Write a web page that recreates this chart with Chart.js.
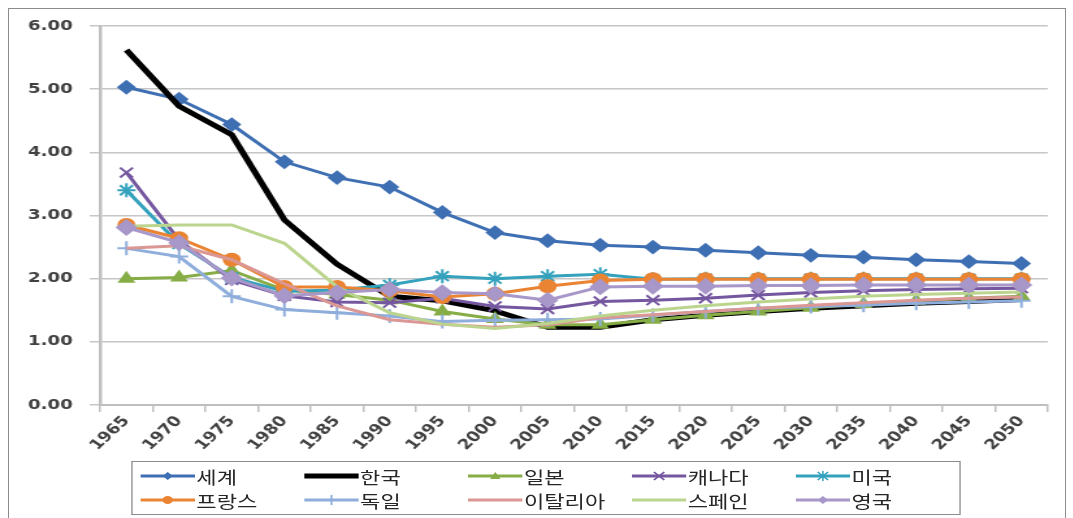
<!DOCTYPE html>
<html>
<head>
<meta charset="utf-8">
<script src="https://cdn.jsdelivr.net/npm/chart.js@4.4.1/dist/chart.umd.min.js"></script>
<style>
    html, body { margin: 0; padding: 0; background: #fff; overflow: hidden; }
    body { width: 1073px; height: 518px; position: relative; }
    #frame { position: absolute; left: 8px; top: 8px; width: 1056px; height: 530px; border: 1.5px solid #8c8c8c; }
    /* the reference is drawn wide, so the whole chart is stretched sideways */
    #stage { position: absolute; left: 0; top: 0; width: 826px; height: 518px; transform: scaleX(1.3); transform-origin: 0 0; }
    #wrap { position: absolute; left: 0; top: 0; width: 826px; height: 455px; }
    #legend {
        position: absolute; left: 101px; top: 461px; width: 638px; height: 54px;
        border: 1.5px solid #8c8c8c; box-sizing: border-box; padding: 2px 0 0 6px;
        display: grid; grid-template-columns: repeat(5, 126px); grid-auto-rows: 24px;
        font: 17px "Noto Sans CJK KR", sans-serif; color: #262626;
    }
    .item { display: flex; align-items: center; white-space: nowrap; }
    .item svg { flex: none; margin-right: 1px; }
</style>
</head>
<body>
<div id="frame"></div>
<div id="stage">
    <div id="wrap"><canvas id="fertilityChart"></canvas></div>
    <div id="legend"></div>
</div>
<script>
const years = ['1965', '1970', '1975', '1980', '1985', '1990', '1995', '2000', '2005',
    '2010', '2015', '2020', '2025', '2030', '2035', '2040', '2045', '2050'];

const world   = [5.03, 4.84, 4.44, 3.85, 3.60, 3.45, 3.05, 2.73, 2.60, 2.53, 2.50, 2.45, 2.41, 2.37, 2.34, 2.30, 2.27, 2.24];
const korea   = [5.62, 4.73, 4.28, 2.93, 2.23, 1.72, 1.65, 1.49, 1.23, 1.23, 1.35, 1.42, 1.48, 1.53, 1.57, 1.61, 1.64, 1.67];
const japan   = [2.00, 2.02, 2.13, 1.82, 1.75, 1.66, 1.48, 1.36, 1.27, 1.27, 1.35, 1.42, 1.48, 1.54, 1.60, 1.65, 1.69, 1.72];
const canada  = [3.68, 2.61, 1.98, 1.73, 1.63, 1.62, 1.69, 1.56, 1.52, 1.64, 1.66, 1.69, 1.74, 1.78, 1.81, 1.83, 1.84, 1.85];
const usa     = [3.40, 2.55, 2.02, 1.80, 1.82, 1.90, 2.04, 2.00, 2.04, 2.07, 1.99, 2.00, 2.00, 2.00, 2.00, 2.00, 2.00, 2.00];
const france  = [2.85, 2.64, 2.30, 1.87, 1.87, 1.81, 1.71, 1.76, 1.88, 1.97, 1.99, 1.99, 1.99, 1.99, 1.99, 1.99, 1.99, 1.99];
const germany = [2.48, 2.35, 1.72, 1.51, 1.46, 1.41, 1.32, 1.34, 1.35, 1.36, 1.42, 1.48, 1.53, 1.56, 1.58, 1.61, 1.63, 1.65];
const italy   = [2.48, 2.52, 2.30, 1.92, 1.57, 1.35, 1.28, 1.23, 1.27, 1.38, 1.43, 1.48, 1.53, 1.58, 1.62, 1.66, 1.69, 1.71];
const spain   = [2.83, 2.85, 2.85, 2.56, 1.87, 1.46, 1.28, 1.21, 1.29, 1.41, 1.50, 1.57, 1.63, 1.68, 1.72, 1.75, 1.77, 1.79];
const uk      = [2.81, 2.57, 2.01, 1.73, 1.78, 1.83, 1.78, 1.76, 1.66, 1.87, 1.88, 1.88, 1.89, 1.89, 1.90, 1.90, 1.90, 1.90];

const yTicks = [0, 1, 2, 3, 4, 5, 6];

// name, values, colour, line width, marker, marker radius
const series = [
    ['세계', world, '#3F6FB3', 3, 'rectRot', 6],
    ['한국', korea, '#000000', 5, false, 0],
    ['일본', japan, '#86AD46', 3, 'triangle', 6],
    ['캐나다', canada, '#7557A0', 3, 'crossRot', 7],
    ['미국', usa, '#35A2BD', 3, 'star', 7],
    ['프랑스', france, '#EA8433', 3, 'circle', 6],
    ['독일', germany, '#8FAEDC', 3, 'cross', 7],
    ['이탈리아', italy, '#DB9794', 3, false, 0],
    ['스페인', spain, '#BCD58E', 3, false, 0],
    ['영국', uk, '#A897C9', 3, 'rectRot', 7]
];

const axisFont = { family: 'DejaVu Sans', size: 14, weight: 'bold' };

const datasets = series.map(function (s, i) {
    return {
        label: s[0],
        data: s[1],
        borderColor: s[2],
        backgroundColor: s[2],
        borderWidth: s[3],
        pointStyle: s[4],
        pointRadius: s[5],
        pointHoverRadius: s[5],
        pointBorderWidth: 2,
        pointBackgroundColor: s[2],
        pointBorderColor: s[2],
        tension: 0,
        order: series.length - i   // later series on top, like the original
    };
});

new Chart(document.getElementById('fertilityChart'), {
    type: 'line',
    data: { labels: years, datasets: datasets },
    options: {
        responsive: true,
        maintainAspectRatio: false,
        animation: false,
        devicePixelRatio: 1,
        layout: { padding: { top: 26, right: 20, left: 0, bottom: 0 } },
        plugins: { legend: { display: false }, tooltip: { enabled: false } },
        scales: {
            x: {
                type: 'category',
                offset: true,
                grid: { offset: true, drawOnChartArea: false, drawTicks: true, tickLength: 7, color: '#BFBFBF', lineWidth: 1.5 },
                border: { color: '#BFBFBF', width: 2 },
                ticks: { autoSkip: false, minRotation: 50, maxRotation: 50, font: axisFont, color: '#404040', padding: 1 },
                afterFit: function (scale) { scale.height = 50; }
            },
            y: {
                min: 0,
                max: 6,
                afterBuildTicks: function (scale) { scale.ticks = yTicks.map(v => ({ value: v })); },
                grid: { color: '#C6C6C6', lineWidth: 1.5, tickLength: 8 },
                border: { color: '#BFBFBF', width: 2.5 },
                ticks: { callback: v => Number(v).toFixed(2), font: axisFont, color: '#404040', padding: 13 },
                afterFit: function (scale) { scale.width = 77; }
            }
        }
    }
});

// HTML legend laid out in five columns like the original
function markerSvg(style, color) {
    const cx = 21, cy = 7;
    switch (style) {
        case 'rectRot': return `<polygon points="${cx},${cy - 4} ${cx + 4},${cy} ${cx},${cy + 4} ${cx - 4},${cy}" fill="${color}"/>`;
        case 'triangle': return `<polygon points="${cx},${cy - 4} ${cx + 4},${cy + 3} ${cx - 4},${cy + 3}" fill="${color}"/>`;
        case 'circle': return `<circle cx="${cx}" cy="${cy}" r="4" fill="${color}"/>`;
        case 'crossRot': return `<path d="M${cx - 4} ${cy - 4}L${cx + 4} ${cy + 4}M${cx + 4} ${cy - 4}L${cx - 4} ${cy + 4}" stroke="${color}" stroke-width="1.5"/>`;
        case 'cross': return `<path d="M${cx} ${cy - 5}V${cy + 5}M${cx - 5} ${cy}H${cx + 5}" stroke="${color}" stroke-width="1.5"/>`;
        case 'star': return `<path d="M${cx} ${cy - 5}V${cy + 5}M${cx - 4} ${cy - 4}L${cx + 4} ${cy + 4}M${cx + 4} ${cy - 4}L${cx - 4} ${cy + 4}" stroke="${color}" stroke-width="1.2"/>`;
        default: return '';
    }
}

const legendBox = document.getElementById('legend');
series.forEach(function (s) {
    const item = document.createElement('div');
    item.className = 'item';
    item.innerHTML = `<svg width="42" height="14"><line x1="0" y1="7" x2="42" y2="7" stroke="${s[2]}" stroke-width="${s[3]}"/>${markerSvg(s[4], s[2])}</svg><span>${s[0]}</span>`;
    legendBox.appendChild(item);
});
</script>
</body>
</html>
